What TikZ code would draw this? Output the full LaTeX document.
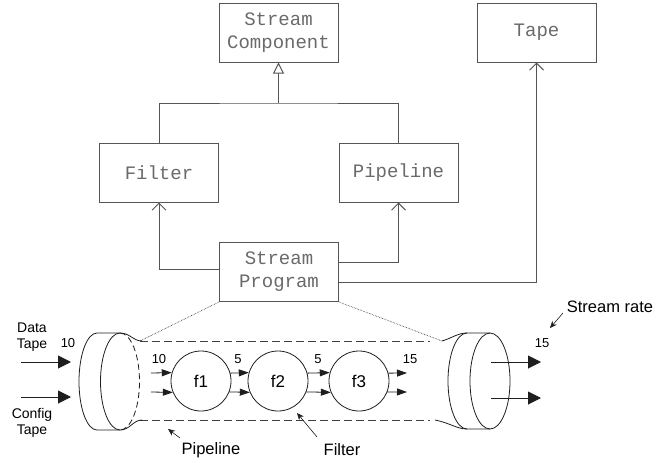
\documentclass[tikz,border=0pt]{standalone}
\usepackage{fontspec}
\setmainfont{Liberation Sans}
\newfontfamily\boxfont{Liberation Mono}
\usetikzlibrary{arrows.meta}
\definecolor{boxgray}{HTML}{555555}
\definecolor{txtgray}{HTML}{6A6A6A}
\definecolor{ink}{HTML}{1E1E1E}
\begin{document}
\begin{tikzpicture}[x=1pt,y=-1pt,
  umlbox/.style={draw=boxgray, line width=1pt, minimum width=119pt, minimum height=59pt,
    inner sep=0pt, align=center, text=txtgray, font=\boxfont\fontsize{19}{23}\selectfont},
  assoc/.style={draw=boxgray, line width=1pt, -{Straight Barb[length=7pt,width=14pt]}},
  inherit/.style={draw=boxgray, line width=1pt, -{Triangle[open,length=11pt,width=11pt]}},
  filt/.style={circle, draw=ink, line width=0.8pt, minimum size=60pt, inner sep=0pt,
    font=\fontsize{17}{20}\selectfont},
  flow/.style={draw=ink, line width=0.8pt, -{Triangle[length=10pt,width=7pt]}},
  bigflow/.style={draw=ink, line width=1pt, -{Triangle[length=13pt,width=13pt]}},
  rate/.style={inner sep=0pt, font=\fontsize{13}{15}\selectfont},
  lbl/.style={inner sep=0pt, align=center, font=\fontsize{16.5}{19}\selectfont},
  tapelbl/.style={inner sep=0pt, align=center, font=\fontsize{14}{16}\selectfont},
  pointer/.style={draw=ink, line width=0.6pt, -{Stealth[length=7pt,width=6pt]}},
  solidedge/.style={draw=ink, line width=0.8pt},
  pipe/.style={draw=ink!85, line width=0.8pt, dash pattern=on 8pt off 4pt},
  rimdash/.style={draw=ink, line width=0.8pt, dash pattern=on 6pt off 3.5pt},
  zoomline/.style={draw=ink, line width=0.6pt, densely dotted}]
\useasboundingbox (0,0) rectangle (667,463);

% class diagram
\node[umlbox] (sc) at (278.5,32.5) {Stream\\Component};
\node[umlbox] (tape) at (536.5,32.5) {Tape};
\node[umlbox] (filter) at (159,172.5) {Filter};
\node[umlbox] (pipeline) at (398.5,172.5) {Pipeline};
\node[umlbox] (sp) at (279,272) {Stream\\Program};

\coordinate (junc) at (278.5,103);
\draw[draw=boxgray, line width=1pt] (filter.north) |- (junc) -| (pipeline.north);
\draw[inherit] (junc) -- (sc.south);
\draw[assoc] ([yshift=3pt]sp.west) -| (filter.south);
\draw[assoc] ([yshift=10pt]sp.east) -| (pipeline.south);
\draw[assoc] ([yshift=-10pt]sp.east) -| (tape.south);

% pipeline drawn as a tube between two end caps
\draw[pipe] (140,341) -- (430,341);
\draw[pipe] (140,420) -- (430,420);

% left end cap
\draw[solidedge] (120,333) -- (97,333)
  arc[start angle=270, end angle=90, x radius=18, y radius=48.5] -- (120,430);
\draw[solidedge] (120,333) arc[start angle=270, end angle=90, x radius=19.5, y radius=48.5];
\draw[rimdash] (120,333) arc[start angle=-90, end angle=90, x radius=19.5, y radius=48.5];
\draw[solidedge] (120,333) .. controls (130,333) and (133,341) .. (142,341);
\draw[solidedge] (120,430) .. controls (130,430) and (133,420) .. (142,420);

% right end cap
\draw[solidedge] (490,333) -- (467,333)
  arc[start angle=270, end angle=90, x radius=19, y radius=48] -- (490,429);
\draw[solidedge] (490,381) ellipse[x radius=20, y radius=48];
\draw[solidedge] (442,341) .. controls (452,338) and (458,333) .. (467,333);
\draw[solidedge] (435,420) .. controls (450,423) and (457,429) .. (467,429);

% zoom lines from the program box
\draw[zoomline] (sp.south west) -- (140,341);
\draw[zoomline] (sp.south east) -- (442,341);

% filters
\node[filt] (f1) at (201,381) {f1};
\node[filt] (f2) at (278,381) {f2};
\node[filt] (f3) at (359,381) {f3};

\coordinate (in1) at (151,373);
\coordinate (in2) at (151,392);
\coordinate (out1) at (407,373);
\coordinate (out2) at (407,392);
\draw[flow] (in1) -- (f1.164.5);
\draw[flow] (in2) -- (f1.-158.5);
\draw[flow] (f1.15.5) -- (f2.164.5);
\draw[flow] (f1.-21.5) -- (f2.-158.5);
\draw[flow] (f2.15.5) -- (f3.164.5);
\draw[flow] (f2.-21.5) -- (f3.-158.5);
\draw[flow] (f3.15.5) -- (out1);
\draw[flow] (f3.-21.5) -- (out2);

% rates
\node[rate] (r10a) at (159,359) {10};
\node[rate] (r5a) at (238,359) {5};
\node[rate] (r5b) at (318,359) {5};
\node[rate] (r15a) at (410,359) {15};
\node[rate] (r10) at (68,343) {10};
\node[rate] (r15) at (542,343) {15};

% tapes in and out
\coordinate (dsrc) at (21,362);
\coordinate (dtip) at (71,362);
\coordinate (csrc) at (21,397);
\coordinate (ctip) at (71,397);
\draw[bigflow] (dsrc) -- (dtip);
\draw[bigflow] (csrc) -- (ctip);
\node[tapelbl] (data) at (32,337) {Data\\Tape};
\node[tapelbl] (config) at (32,423) {Config\\Tape};

\coordinate (o1s) at (491,362);
\coordinate (o1t) at (541,362);
\coordinate (o2s) at (491,398);
\coordinate (o2t) at (541,398);
\draw[bigflow] (o1s) -- (o1t);
\draw[bigflow] (o2s) -- (o2t);

% callouts
\node[lbl] (srate) at (610,307) {Stream rate};
\coordinate (sratetip) at (550,328);
\draw[pointer] (563,313) -- (sratetip);

\node[lbl] (pll) at (211,450) {Pipeline};
\coordinate (plltip) at (168,429);
\draw[pointer] (180,438) -- (plltip);

\node[lbl] (fll) at (342,450) {Filter};
\coordinate (flltip) at (297,413);
\draw[pointer] (317,437) -- (flltip);
\end{tikzpicture}
\end{document}
